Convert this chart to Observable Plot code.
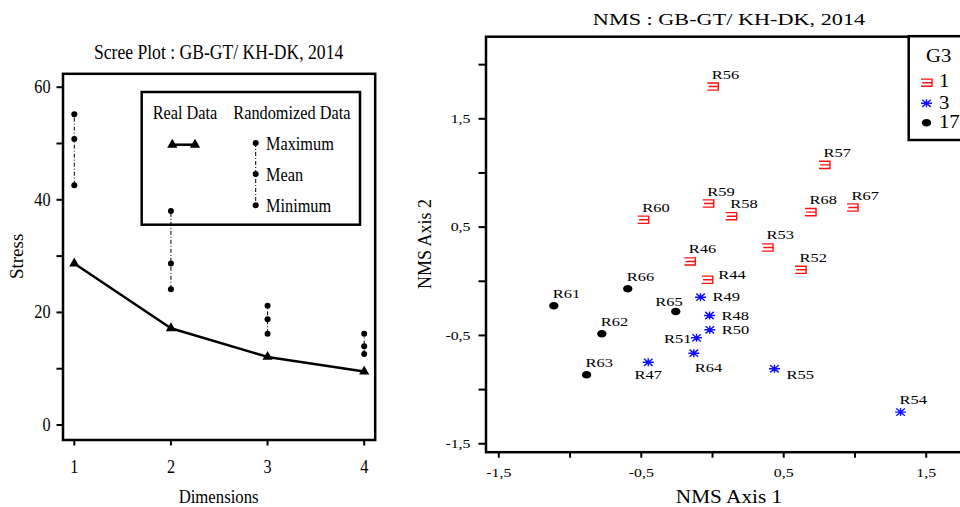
<!DOCTYPE html>
<html><head><meta charset="utf-8">
<script src="https://cdn.jsdelivr.net/npm/d3@7"></script>
<script src="https://cdn.jsdelivr.net/npm/@observablehq/plot@0.6"></script>
<style>
html,body{margin:0;padding:0;background:#fff;overflow:hidden;}
#wrap{position:relative;width:960px;height:507px;overflow:hidden;background:#fff;}
#left{position:absolute;left:0;top:0;width:420px;height:507px;}
#right{position:absolute;left:420px;top:0;width:560px;height:507px;}
#overlay{position:absolute;left:0;top:0;pointer-events:none;}
#wrap svg{max-width:none !important;}
[aria-label="x-axis tick"],[aria-label="y-axis tick"]{stroke-width:2px;}
[aria-label="x-axis tick"] path,[aria-label="y-axis tick"] path,[aria-label="x-axis"] line,[aria-label="y-axis"] line{stroke-width:2px;}
</style></head>
<body><div id="wrap"><div id="left"></div><div id="right"></div><svg id="overlay" width="960" height="507"></svg></div>
<script>
// ---------- Scree plot data ----------
const dimensions = [1, 2, 3, 4];
const realStress = [28.7, 17.2, 12.1, 9.5];
const randMax = [55.2, 38.0, 21.2, 16.2];
const randMean = [50.8, 28.7, 18.8, 14.0];
const randMin = [42.6, 24.1, 16.2, 12.6];
const stressTicks = [0, 10, 20, 30, 40, 50, 60];
const stressTickLabels = [0, 20, 40, 60];

// ---------- NMS data ----------
const sites  = ["R56","R57","R59","R58","R60","R68","R67","R53","R52","R46","R44",
                "R49","R48","R50","R51","R64","R47","R55","R54",
                "R61","R66","R65","R62","R63"];
const axis1  = [0.002, 0.786, -0.030, 0.131, -0.486, 0.688, 0.983, 0.386, 0.618, -0.159, -0.037,
                -0.084, -0.021, -0.019, -0.112, -0.131, -0.451, 0.435, 1.320,
                -1.114, -0.595, -0.258, -0.777, -0.884];
const axis2  = [1.798, 1.075, 0.718, 0.601, 0.568, 0.638, 0.681, 0.312, 0.106, 0.183, 0.014,
                -0.147, -0.316, -0.448, -0.522, -0.664, -0.748, -0.808, -1.208,
                -0.226, -0.069, -0.279, -0.485, -0.863];
const groups = [1,1,1,1,1,1,1,1,1,1,1,
                3,3,3,3,3,3,3,3,
                17,17,17,17,17];
const labelPos = ["n","n","n","n","n","n","n","n","n","n","ne",
                  "e","e","e","w","s","sm","se","n",
                  "n","n","nw","n","n"];
const groupNames = [1, 3, 17];
const nmsTicks = [-1.5, -1, -0.5, 0, 0.5, 1, 1.5, 2];
const nmsTickLabels = [-1.5, -0.5, 0.5, 1.5];

// ---------- styles ----------
const serif = '"Liberation Serif", "Times New Roman", serif';
const groupColor = {1: "#ff1010", 3: "#1010ff", 17: "#000000"};
const symE = {draw(c) { c.moveTo(-5.5,-3.6); c.lineTo(5.5,-3.6); c.lineTo(5.5,3.6); c.lineTo(-5.5,3.6); c.moveTo(-4.2,0); c.lineTo(5.5,0); }};
const symAst = {draw(c) { c.moveTo(-5.5,0); c.lineTo(5.5,0); c.moveTo(-4.3,-3.6); c.lineTo(4.3,3.6); c.moveTo(-4.3,3.6); c.lineTo(4.3,-3.6); c.moveTo(0,-4); c.lineTo(0,4); }};
const symEll = {draw(c) { const rx=4.7, ry=3.8, k=0.5523; c.moveTo(rx,0); c.bezierCurveTo(rx,ry*k,rx*k,ry,0,ry); c.bezierCurveTo(-rx*k,ry,-rx,ry*k,-rx,0); c.bezierCurveTo(-rx,-ry*k,-rx*k,-ry,0,-ry); c.bezierCurveTo(rx*k,-ry,rx,-ry*k,rx,0); c.closePath(); }};
const groupSymbol = {1: symE, 3: symAst, 17: symEll};
const labelStyle = {
  n:  {dx: -1, dy: -8, textAnchor: "start"},
  ne: {dx: 11, dy: -1, textAnchor: "start"},
  e:  {dx: 12, dy: 4, textAnchor: "start"},
  se: {dx: 12, dy: 10, textAnchor: "start"},
  w:  {dx: -5, dy: 5, textAnchor: "end"},
  s:  {dx: 1, dy: 19, textAnchor: "start"},
  sm: {dx: 0, dy: 17, textAnchor: "middle"},
  nw: {dx: 7, dy: -5, textAnchor: "end"}
};

// ---------- Scree plot ----------
const left = Plot.plot({
  width: 420, height: 507,
  marginLeft: 62.5, marginRight: 45.3, marginTop: 73.3, marginBottom: 67.5,
  style: {fontFamily: serif, fontSize: "18px", background: "transparent", color: "black"},
  x: {domain: [0.883, 4.114], ticks: dimensions, tickFormat: d => String(d), tickSize: 6, tickPadding: 14, label: null},
  y: {domain: [-2.66, 62.38], ticks: stressTicks, tickFormat: d => stressTickLabels.includes(d) ? String(d) : "", tickSize: 6, tickPadding: 6.5, label: null},
  marks: [
    Plot.ruleX(dimensions, {x: d => d, y1: (d, i) => randMin[i], y2: (d, i) => randMax[i], stroke: "black", strokeWidth: 1, strokeDasharray: "4,2,1,2"}),
    Plot.dot(dimensions, {x: d => d, y: (d, i) => randMax[i], r: 3, fill: "black", stroke: "none"}),
    Plot.dot(dimensions, {x: d => d, y: (d, i) => randMean[i], r: 3, fill: "black", stroke: "none"}),
    Plot.dot(dimensions, {x: d => d, y: (d, i) => randMin[i], r: 3, fill: "black", stroke: "none"}),
    Plot.line(dimensions, {x: d => d, y: (d, i) => realStress[i], stroke: "black", strokeWidth: 2.5}),
    Plot.dot(dimensions, {x: d => d, y: (d, i) => realStress[i], symbol: "triangle", r: 3.8, fill: "black", stroke: "none"}),
    Plot.frame({stroke: "black", strokeWidth: 2.5})
  ]
});
document.getElementById("left").appendChild(left);

// ---------- NMS plot ----------
const idx = d3.range(sites.length);
const fmt = d => nmsTickLabels.includes(d) ? String(d).replace(".", ",") : "";
const nmsMarks = [];
for (const g of groupNames) {
  nmsMarks.push(Plot.dot(idx.filter(i => groups[i] === g), {
    x: i => axis1[i], y: i => axis2[i], symbol: groupSymbol[g],
    fill: g === 17 ? "black" : "none", stroke: g === 17 ? "none" : groupColor[g], strokeWidth: 1.4
  }));
}
for (const p of Object.keys(labelStyle)) {
  const s = labelStyle[p];
  nmsMarks.push(Plot.text(idx.filter(i => labelPos[i] === p), {
    x: i => axis1[i], y: i => axis2[i], text: i => sites[i],
    dx: s.dx, dy: s.dy, textAnchor: s.textAnchor, lineAnchor: "bottom",
    fontSize: 13.5, fill: "black"
  }));
}
nmsMarks.push(Plot.frame({stroke: "black", strokeWidth: 2.5}));

const right = Plot.plot({
  width: 560, height: 507,
  marginLeft: 65.5, marginRight: 7, marginTop: 36.2, marginBottom: 55.3,
  style: {fontFamily: serif, fontSize: "13px", background: "transparent", color: "black"},
  x: {domain: [-1.590, 1.832], ticks: nmsTicks.filter(t => t <= 1.8), tickFormat: fmt, tickSize: 6, tickPadding: 10, label: null},
  y: {domain: [-1.578, 2.258], ticks: nmsTicks, tickFormat: fmt, tickSize: 7, tickPadding: 8.5, label: null},
  marks: nmsMarks
});
document.getElementById("right").appendChild(right);

// ---------- overlay: titles, axis labels, legends ----------
const ov = d3.select("#overlay");
function txt(x, y, s, size, anchor, k, rotate) {
  const t = ov.append("text").attr("x", x).attr("y", y).text(s)
    .attr("font-family", serif).attr("font-size", size).attr("text-anchor", anchor || "start").attr("fill", "black");
  if (rotate) t.attr("transform", `rotate(-90 ${x} ${y})`);
  if (k) t.attr("data-k", k);
  return t;
}
// left chart
txt(218.6, 59.3, "Scree Plot : GB-GT/ KH-DK, 2014", 20, "middle", 0.88);
txt(23.5, 256.4, "Stress", 19, "middle", null, true);
txt(218.6, 503, "Dimensions", 19, "middle", 0.88);
ov.append("rect").attr("x", 141.7).attr("y", 92).attr("width", 218.3).attr("height", 132.7)
  .attr("fill", "none").attr("stroke", "black").attr("stroke-width", 2.5);
txt(152.7, 118.7, "Real Data", 18.5, "start", 0.88);
txt(233.3, 118.7, "Randomized Data", 18.5, "start", 0.88);
ov.append("line").attr("x1", 172.3).attr("x2", 195).attr("y1", 144.7).attr("y2", 144.7).attr("stroke", "black").attr("stroke-width", 2.5);
for (const x of [172.3, 195]) ov.append("path").attr("d", d3.symbol(d3.symbolTriangle, Math.PI * 3.8 * 3.8)()).attr("transform", `translate(${x},144.7)`).attr("fill", "black");
ov.append("line").attr("x1", 255.7).attr("x2", 255.7).attr("y1", 143).attr("y2", 205.3).attr("stroke", "black").attr("stroke-width", 1).attr("stroke-dasharray", "4,2,1,2");
const legRows = [["Maximum", 143], ["Mean", 174], ["Minimum", 205.3]];
for (const [s, y] of legRows) {
  ov.append("circle").attr("cx", 255.7).attr("cy", y).attr("r", 3).attr("fill", "black");
  txt(266, y + 7, s, 18.5, "start", 0.88);
}
// right chart
txt(729, 25, "NMS : GB-GT/ KH-DK, 2014", 17.5, "middle", 1.27);
txt(729, 503, "NMS Axis 1", 18, "middle", 1.18);
txt(431, 244, "NMS Axis 2", 18, "middle", null, true);
ov.append("rect").attr("x", 908.7).attr("y", 36.2).attr("width", 100).attr("height", 103.8)
  .attr("fill", "white").attr("stroke", "black").attr("stroke-width", 2.5);
txt(926, 61.7, "G3", 18, "start", 1.15);
const legY = [[82.7, 87.3], [103.3, 109], [122.7, 128.3]];
groupNames.forEach((g, j) => {
  const [sy, ty] = legY[j];
  ov.append("path").attr("d", d3.symbol(groupSymbol[g])()).attr("transform", `translate(926.5,${sy})`)
    .attr("fill", g === 17 ? "black" : "none").attr("stroke", g === 17 ? "none" : groupColor[g]).attr("stroke-width", 1.4);
  txt(939, ty, String(g), 18, "start", 1.15);
});

// ---------- horizontal text scaling to match the reference raster ----------
function stretch(nodes, k) {
  nodes.forEach(t => {
    const w = t.getComputedTextLength();
    if (w > 0) { t.setAttribute("textLength", (w * k).toFixed(2)); t.setAttribute("lengthAdjust", "spacingAndGlyphs"); }
  });
}
stretch(Array.from(left.querySelectorAll("text")).filter(t => t.textContent.length), 0.9);
stretch(Array.from(right.querySelectorAll("text")).filter(t => t.textContent.length), 1.22);
document.querySelectorAll("#overlay text[data-k]").forEach(t => stretch([t], +t.getAttribute("data-k")));
</script></body></html>
